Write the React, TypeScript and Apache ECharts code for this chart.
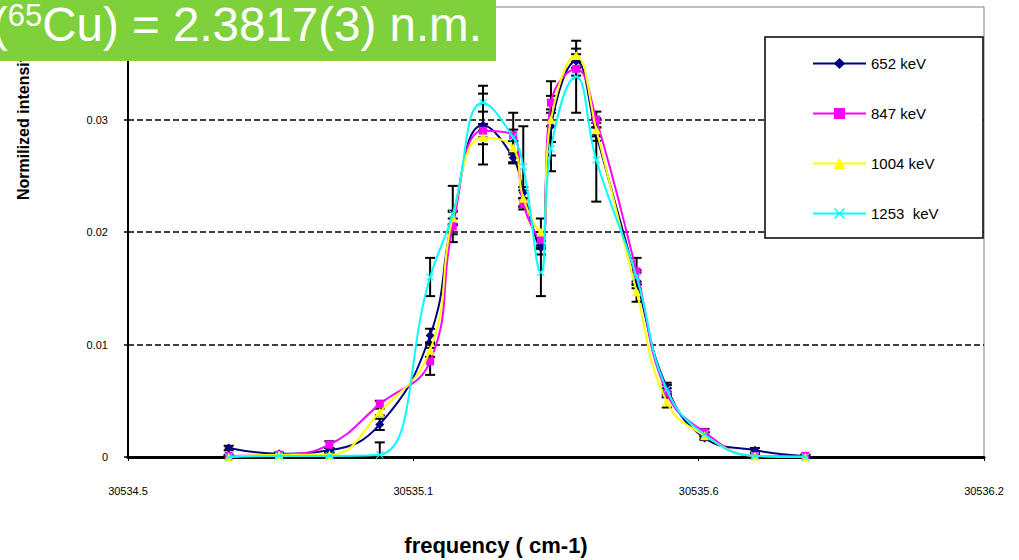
import React, { useEffect, useRef } from "react";
import * as echarts from "echarts";

// ---------- data ----------
const X_MIN = 30534.5;
const X_MAX = 30536.2;
const X_SPLITS = 3;
const X_TICK_LABELS = ["30534.5", "30535.1", "30535.6", "30536.2"];
const Y_MIN = 0;
const Y_MAX = 0.04;
const Y_STEP = 0.01;

const FREQ = [
  30534.7, 30534.8, 30534.9, 30535.0, 30535.1, 30535.145, 30535.205, 30535.265, 30535.285,
  30535.32, 30535.34, 30535.39, 30535.43, 30535.51, 30535.57, 30535.645, 30535.745, 30535.845,
];

const SERIES_NAMES = ["652 keV", "847 keV", "1004 keV", "1253  keV"];

const V652 = [0.0008, 0.0003, 0.0006, 0.0029, 0.0108, 0.0212, 0.0295, 0.0266, 0.0235, 0.0186, 0.0294, 0.0352, 0.0287, 0.0157, 0.0062, 0.0017, 0.0006, 0.0001];
const V847 = [0.0001, 0.0002, 0.0011, 0.0047, 0.0085, 0.0205, 0.029, 0.0286, 0.0225, 0.0193, 0.0315, 0.0345, 0.03, 0.0165, 0.0057, 0.0022, 0.0001, 0.0001];
const V1004 = [0.0, 0.0002, 0.0002, 0.004, 0.0095, 0.0213, 0.0284, 0.0275, 0.023, 0.02, 0.03, 0.0357, 0.0291, 0.0147, 0.0049, 0.0019, 0.0001, 0.0];
const V1253 = [0.0, 0.0001, 0.0001, 0.0002, 0.016, 0.0216, 0.0315, 0.0284, 0.0258, 0.0164, 0.0274, 0.0338, 0.0264, 0.016, 0.006, 0.002, 0.0001, 0.0];

const E652 = [0.0002, 0.0001, 0.0002, 0.0005, 0.0006, 0.0006, 0.0035, 0.0005, 0.0005, 0.0006, 0.004, 0.0006, 0.0006, 0.0007, 0.0004, 0.0002, 0.0002, 0.0001];
const E847 = [0.0001, 0.0001, 0.0003, 0.0003, 0.0012, 0.0007, 0.0006, 0.0005, 0.0005, 0.0007, 0.0006, 0.0006, 0.0007, 0.0012, 0.0004, 0.0003, 0.0001, 0.0001];
const E1004 = [0.0001, 0.0001, 0.0002, 0.0003, 0.0006, 0.0006, 0.0006, 0.0006, 0.0007, 0.0012, 0.0006, 0.0006, 0.0006, 0.0009, 0.0005, 0.0003, 0.0001, 0.0001];
const E1253 = [0.0001, 0.0001, 0.0001, 0.0011, 0.0017, 0.0025, 0.0008, 0.0022, 0.0036, 0.0021, 0.0006, 0.0032, 0.0037, 0.0006, 0.0004, 0.0002, 0.0001, 0.0001];

const VALUES = [V652, V847, V1004, V1253];
const ERRORS = [E652, E847, E1004, E1253];
const COLORS = ["#000080", "#FF00FF", "#FFFF00", "#00FFFF"];
const SYMBOLS = [
  "diamond",
  "rect",
  "triangle",
  "path://M1,0 L5,4 L9,0 L10,1 L6,5 L10,9 L9,10 L5,6 L1,10 L0,9 L4,5 L0,1 Z",
];
const SYMBOL_SIZES = [9, 8, 9, 8];

const TITLE_TEXT = "({sup|65}Cu) = 2.3817(3) n.m.";
const Y_NAME = "Normilized intensity";
const X_NAME = "frequency ( cm-1)";

const SANS = "'Liberation Sans', Arial, Helvetica, sans-serif";

const STEP = (X_MAX - X_MIN) / X_SPLITS;
const toX = (f: number) => (f - X_MIN) / STEP;

export default function App() {
  const ref = useRef<HTMLDivElement>(null);

  useEffect(() => {
    if (!ref.current) return;
    const chart = echarts.init(ref.current, null, { renderer: "svg" });

    const lineSeries = SERIES_NAMES.map((name, s) => ({
      name,
      type: "line",
      smooth: 0.45,
      data: FREQ.map((f, i) => [toX(f), VALUES[s][i]]),
      symbol: SYMBOLS[s],
      symbolSize: SYMBOL_SIZES[s],
      showSymbol: true,
      lineStyle: { color: COLORS[s], width: 2 },
      itemStyle: { color: COLORS[s], borderWidth: 0 },
      z: 3 + s,
      emphasis: { disabled: true },
    }));

    const errData: number[][] = [];
    SERIES_NAMES.forEach((_, s) => {
      FREQ.forEach((f, i) => {
        errData.push([toX(f), VALUES[s][i] - ERRORS[s][i], VALUES[s][i] + ERRORS[s][i]]);
      });
    });

    const errSeries = {
      name: "errors",
      type: "custom",
      clip: true,
      z: 2,
      data: errData,
      encode: { x: 0, y: [1, 2] },
      renderItem: (params: any, api: any) => {
        const x = api.value(0);
        const lo = api.coord([x, api.value(1)]);
        const hi = api.coord([x, api.value(2)]);
        const cw = 5;
        const st = { stroke: "#000", lineWidth: 2 };
        return {
          type: "group",
          children: [
            { type: "line", shape: { x1: lo[0], y1: lo[1], x2: hi[0], y2: hi[1] }, style: st },
            { type: "line", shape: { x1: lo[0] - cw, y1: lo[1], x2: lo[0] + cw, y2: lo[1] }, style: st },
            { type: "line", shape: { x1: hi[0] - cw, y1: hi[1], x2: hi[0] + cw, y2: hi[1] }, style: st },
          ],
        };
      },
    };

    chart.setOption({
      animation: false,
      backgroundColor: "#fff",
      grid: {
        left: 128,
        right: 35,
        top: 7,
        bottom: 103,
        show: true,
        borderColor: "#808080",
        borderWidth: 1,
        outerBoundsMode: "none",
      },
      xAxis: {
        type: "value",
        min: 0,
        max: X_SPLITS,
        interval: 1,
        axisLine: { show: true, onZero: false, lineStyle: { color: "#000", width: 3 } },
        axisTick: { show: true, length: 4, lineStyle: { color: "#000", width: 1 } },
        axisLabel: {
          margin: 28,
          fontSize: 11,
          fontFamily: SANS,
          color: "#000",
          formatter: (v: number) => X_TICK_LABELS[Math.round(v)] ?? "",
        },
        splitLine: { show: false },
      },
      yAxis: {
        type: "value",
        min: Y_MIN,
        max: Y_MAX,
        interval: Y_STEP,
        axisLine: { show: true, lineStyle: { color: "#000", width: 2 } },
        axisTick: { show: true, length: 4, lineStyle: { color: "#000", width: 1.5 } },
        axisLabel: {
          margin: 20,
          fontSize: 11,
          fontFamily: SANS,
          color: "#000",
          showMaxLabel: false,
        },
        splitLine: {
          show: true,
          showMinLine: false,
          showMaxLine: false,
          lineStyle: { color: "#000", width: 1.5, type: [6, 3] },
        },
      },
      legend: {
        data: SERIES_NAMES,
        orient: "vertical",
        left: 812,
        top: 56,
        itemWidth: 53,
        itemHeight: 14,
        itemGap: 35,
        padding: 0,
        z: 20,
        textStyle: { fontSize: 15, fontFamily: SANS, color: "#000" },
        selectedMode: false,
      },
      graphic: [
        {
          type: "rect",
          z: 15,
          shape: { x: 765, y: 37, width: 218, height: 201 },
          style: { fill: "#fff", stroke: "#000", lineWidth: 1.5 },
        },
        {
          type: "text",
          z: 5,
          x: 23,
          y: 200,
          rotation: Math.PI / 2,
          style: {
            text: Y_NAME,
            fontSize: 16,
            fontWeight: "bold",
            fontFamily: SANS,
            fill: "#000",
            align: "left",
            verticalAlign: "middle",
          },
        },
        {
          type: "text",
          z: 5,
          x: 496,
          y: 545,
          style: {
            text: X_NAME,
            fontSize: 22,
            fontWeight: "bold",
            fontFamily: SANS,
            fill: "#000",
            align: "center",
            verticalAlign: "middle",
          },
        },
        {
          type: "rect",
          z: 30,
          shape: { x: 0, y: 0, width: 496, height: 61 },
          style: { fill: "#7FD13B" },
        },
        {
          type: "text",
          z: 31,
          x: -8,
          y: 24,
          style: {
            text: TITLE_TEXT,
            fontSize: 47.5,
            fontFamily: SANS,
            fill: "#fff",
            align: "left",
            verticalAlign: "middle",
            rich: {
              sup: { fontSize: 31, fontFamily: SANS, fill: "#fff", verticalAlign: "top" },
            },
          },
        },
      ],
      series: [errSeries, ...lineSeries],
    });

    return () => chart.dispose();
  }, []);

  return (
    <div
      ref={ref}
      style={{ position: "absolute", left: 0, top: 0, width: 1019, height: 560 }}
    />
  );
}
